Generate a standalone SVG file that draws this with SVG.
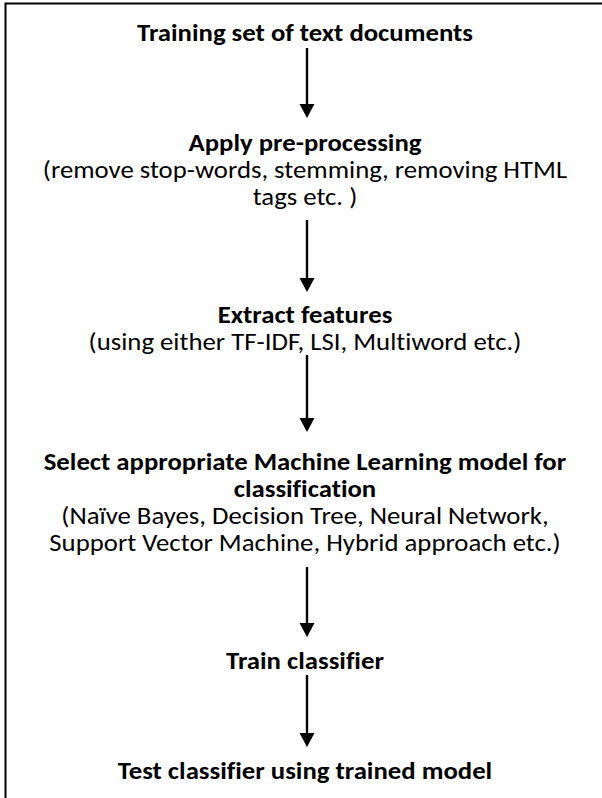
<svg xmlns="http://www.w3.org/2000/svg" width="602" height="798" viewBox="0 0 602 798">
  <style>
    text { font-family: Carlito, Calibri, Lato, "Liberation Sans", sans-serif; font-size: 24px; fill: #000; text-anchor: middle; font-variant-ligatures: none; }
    .b { font-weight: bold; }
    .frame { fill: none; stroke: #000; stroke-width: 2; }
    .link { stroke: #000; stroke-width: 2.4; fill: none; }
    .head { fill: #000; }
  </style>

  <rect width="602" height="798" fill="#fff"/>
  <!-- outer frame; its right and bottom sides run past the canvas -->
  <rect class="frame" x="5.5" y="3.5" width="640" height="840"/>

  <!-- step labels, widened slightly about the centre line x=305 -->
  <g id="steps" transform="matrix(1.115 0 0 1 -35.075 0)">
    <g id="training-set">
      <text class="b" x="305" y="41">Training set of text documents</text>
    </g>

    <g id="preprocessing">
      <text class="b" x="305" y="151">Apply pre-processing</text>
      <text x="305" y="178">(remove stop-words, stemming, removing HTML</text>
      <text x="305" y="205">tags etc. )</text>
    </g>

    <g id="features">
      <text class="b" x="305" y="323">Extract features</text>
      <text x="305" y="350">(using either TF-IDF, LSI, Multiword etc.)</text>
    </g>

    <g id="model-select">
      <text class="b" x="305" y="470">Select appropriate Machine Learning model for</text>
      <text class="b" x="305" y="497">classification</text>
      <text x="305" y="524">(Naïve Bayes, Decision Tree, Neural Network,</text>
      <text x="305" y="551">Support Vector Machine, Hybrid approach etc.)</text>
    </g>

    <g id="train">
      <text class="b" x="305" y="669">Train classifier</text>
    </g>

    <g id="test">
      <text class="b" x="305" y="779">Test classifier using trained model</text>
    </g>
  </g>

  <g id="connectors">
    <line class="link" x1="307" y1="48" x2="307" y2="106"/>
    <polygon class="head" points="299.5,104 314.5,104 307,118"/>

    <line class="link" x1="307" y1="220" x2="307" y2="280"/>
    <polygon class="head" points="299.5,278 314.5,278 307,292"/>

    <line class="link" x1="307" y1="355" x2="307" y2="420"/>
    <polygon class="head" points="299.5,418 314.5,418 307,432"/>

    <line class="link" x1="307" y1="567" x2="307" y2="625"/>
    <polygon class="head" points="299.5,623 314.5,623 307,637"/>

    <line class="link" x1="307" y1="675" x2="307" y2="735"/>
    <polygon class="head" points="299.5,733 314.5,733 307,747"/>
  </g>
</svg>
